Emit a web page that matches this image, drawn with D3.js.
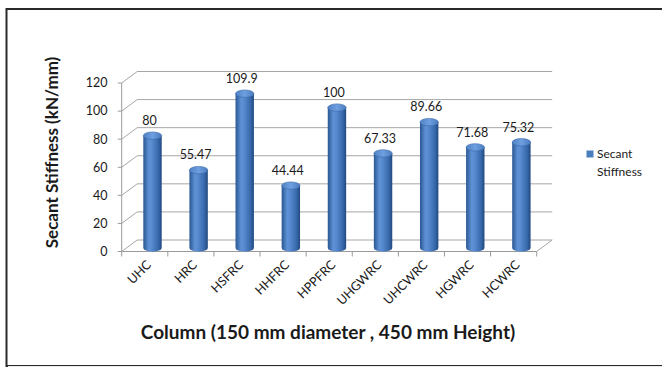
<!DOCTYPE html>
<html>
<head>
<meta charset="utf-8">
<script src="https://cdn.jsdelivr.net/npm/d3@7"></script>
<style>
  html, body { margin: 0; padding: 0; background: #fff; }
  svg { display: block; }
  text { font-family: Lato, "Open Sans", sans-serif; }
</style>
</head>
<body>
<svg id="chart" width="662" height="369"></svg>
<script>
// Secant stiffness of each column type
const categories = ["UHC", "HRC", "HSFRC", "HHFRC", "HPPFRC", "UHGWRC", "UHCWRC", "HGWRC", "HCWRC"];
const stiffness = [80, 55.47, 109.9, 44.44, 100, 67.33, 89.66, 71.68, 75.32];
const valueLabels = ["80", "55.47", "109.9", "44.44", "100", "67.33", "89.66", "71.68", "75.32"];
const yTicks = [0, 20, 40, 60, 80, 100, 120];
const seriesName = ["Secant", "Stiffness"];

const svg = d3.select("#chart");
const W = 662, H = 369;

// outer frame
svg.append("rect").attr("x", 6.5).attr("y", 9).attr("width", W + 10).attr("height", 357)
  .attr("fill", "#fff").attr("stroke", "#2a2a2a").attr("stroke-width", 2);
svg.append("line").attr("x1", 8).attr("x2", W).attr("y1", 366.5).attr("y2", 366.5)
  .attr("stroke", "#ececec").attr("stroke-width", 1);

// 3-D box geometry: front plane plus a receding depth offset
const DX = 15.5, DY = -11.5;
const x = d3.scaleBand().domain(categories).range([121.7, 536.7]).padding(0);
const y = d3.scaleLinear().domain([0, 120]).range([251.5, 83]);
const x0 = x.range()[0], x1 = x.range()[1];

const grid = svg.append("g").attr("stroke", "#a6a6a6").attr("stroke-width", 1).attr("fill", "none");
// back wall gridlines and side wall diagonals
yTicks.forEach(t => {
  const yy = y(t);
  grid.append("line").attr("x1", x0 + DX).attr("x2", x1 + DX).attr("y1", yy + DY).attr("y2", yy + DY);
  grid.append("line").attr("x1", x0).attr("x2", x0 + DX).attr("y1", yy).attr("y2", yy + DY);
});
// floor right edge
grid.append("line").attr("x1", x1).attr("x2", x1 + DX).attr("y1", y(0)).attr("y2", y(0) + DY);

// value axis (front)
const axisG = svg.append("g").attr("stroke", "#9a9a9a").attr("stroke-width", 1);
axisG.append("line").attr("x1", x0).attr("x2", x0).attr("y1", y(120)).attr("y2", y(0));
yTicks.forEach(t => {
  axisG.append("line").attr("x1", x0 - 4).attr("x2", x0).attr("y1", y(t)).attr("y2", y(t));
});
// category axis (front floor edge)
axisG.append("line").attr("x1", x0).attr("x2", x1).attr("y1", y(0)).attr("y2", y(0));
categories.concat([null]).forEach((c, i) => {
  const xx = x0 + i * x.bandwidth();
  axisG.append("line").attr("x1", xx).attr("x2", xx).attr("y1", y(0)).attr("y2", y(0) + 5);
});

// tick labels
svg.append("g").selectAll("text").data(yTicks).join("text")
  .attr("x", 107.5).attr("y", d => y(d)).attr("dy", "0.35em")
  .attr("text-anchor", "end").attr("font-size", 12.5).attr("fill", "#1a1a1a")
  .text(d => d);

svg.append("g").selectAll("text").data(categories).join("text")
  .attr("transform", d => `translate(${x(d) + x.bandwidth() / 2 + 4},${y(0) + 11}) rotate(-45)`)
  .attr("text-anchor", "end").attr("dy", "0.35em")
  .attr("font-size", 12.5).attr("fill", "#1a1a1a")
  .text(d => d);

// cylinder shading
const defs = svg.append("defs");
const grad = defs.append("linearGradient").attr("id", "cyl").attr("x1", "0%").attr("x2", "100%");
[[0, "#2a5792"], [0.3, "#5e91d6"], [0.45, "#588bd0"], [0.8, "#386aac"], [1, "#224980"]]
  .forEach(([o, c]) => grad.append("stop").attr("offset", o).attr("stop-color", c));
const topGrad = defs.append("linearGradient").attr("id", "cylTop").attr("x1", "0%").attr("x2", "100%");
[[0, "#4f82c4"], [0.5, "#6e9fe0"], [1, "#4a7cbf"]]
  .forEach(([o, c]) => topGrad.append("stop").attr("offset", o).attr("stop-color", c));

const RX = 9.2, RY = 3.7, CYL_DX = DX / 2, CYL_DY = -3.5;
const cx = c => x(c) + x.bandwidth() / 2 + CYL_DX;
const cy = v => y(v) + CYL_DY;

const data = categories.map((c, i) => ({ c, v: stiffness[i], label: valueLabels[i] }));
const bars = svg.append("g").selectAll("g").data(data).join("g");
bars.append("path")
  .attr("d", d => {
    const l = cx(d.c) - RX, r = cx(d.c) + RX, t = cy(d.v), b = cy(0);
    return `M${l},${t} L${l},${b} A${RX},${RY} 0 0 0 ${r},${b} L${r},${t} Z`;
  })
  .attr("fill", "url(#cyl)");
bars.append("ellipse")
  .attr("cx", d => cx(d.c)).attr("cy", d => cy(d.v))
  .attr("rx", RX).attr("ry", RY)
  .attr("fill", "url(#cylTop)").attr("stroke", "#3c6aa8").attr("stroke-width", 0.6);

// data labels
bars.append("text")
  .attr("x", d => cx(d.c) - 3).attr("y", d => cy(d.v) - 15).attr("dy", "0.35em")
  .attr("text-anchor", "middle").attr("font-size", 12.5).attr("fill", "#1a1a1a")
  .text(d => d.label);

// axis titles
svg.append("text")
  .attr("transform", "translate(52,152.5) rotate(-90)")
  .attr("text-anchor", "middle").attr("dy", "0.35em")
  .attr("font-size", 17).attr("font-weight", "bold").attr("fill", "#1a1a1a")
  .text("Secant Stiffness (kN/mm)");
svg.append("text")
  .attr("x", 328).attr("y", 332).attr("dy", "0.35em")
  .attr("text-anchor", "middle")
  .attr("font-size", 19).attr("font-weight", "bold").attr("fill", "#1a1a1a")
  .text("Column (150 mm diameter , 450 mm Height)");

// legend
const lg = svg.append("g");
lg.append("rect").attr("x", 586.5).attr("y", 150.5).attr("width", 7).attr("height", 7).attr("fill", "#4a7ebf");
lg.selectAll("text").data(seriesName).join("text")
  .attr("x", 597).attr("y", (d, i) => 154 + i * 17.5).attr("dy", "0.35em")
  .attr("font-size", 12).attr("fill", "#1a1a1a")
  .text(d => d);
</script>
</body>
</html>
